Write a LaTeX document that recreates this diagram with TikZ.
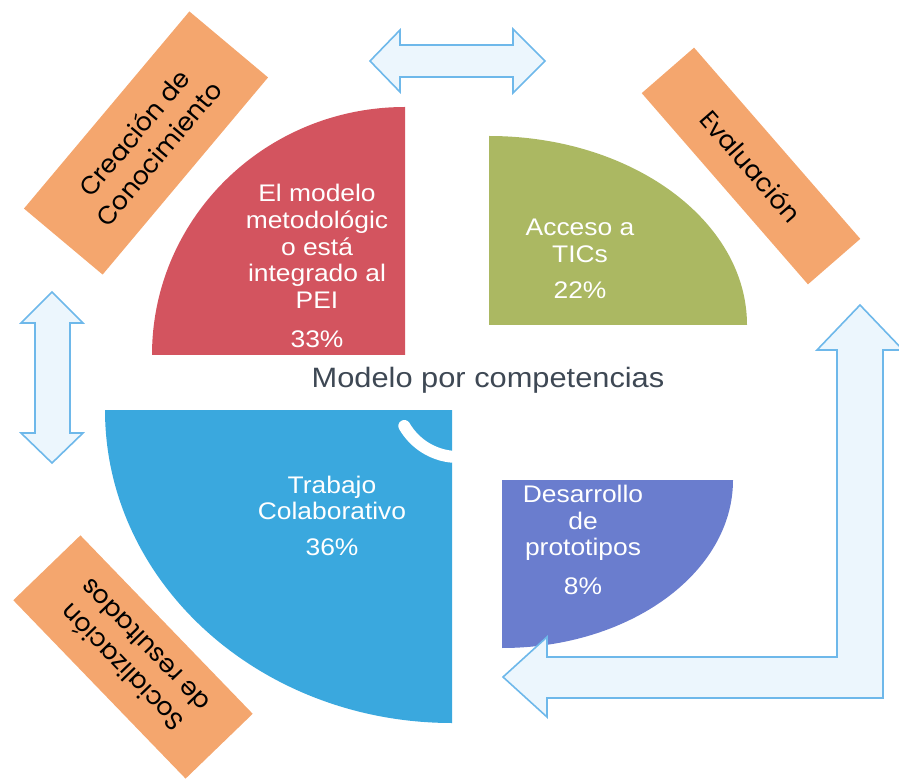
\documentclass[tikz,border=0pt]{standalone}
\usepackage{fontspec}
\setmainfont{Liberation Sans}
\newfontfamily\piefont[FakeStretch=1.1]{Liberation Sans}
\newfontfamily\tagfont{Poppins}
\usepackage{tikz}

\begin{document}
\begin{tikzpicture}[x=0.75pt,y=0.75pt,yscale=-1,xscale=1,
  pielabel/.style={text={rgb,255:red,255;green,255;blue,255}, align=center, inner sep=0pt, font=\piefont\fontsize{18}{20}\selectfont},
  tagbox/.style={fill={rgb,255:red,244;green,166;blue,110}, align=center, inner sep=0pt, font=\tagfont\fontsize{19}{24}\selectfont},
  hollow/.style={draw={rgb,255:red,110;green,184;blue,234}, fill={rgb,255:red,236;green,246;blue,253}, line width=1.2, line join=miter}
]
\useasboundingbox (0,0) rectangle (899,780);

%Shape: Sector [red]
\fill [color={rgb, 255:red, 211; green, 84; blue, 95 }] (405,355) -- (152,355) arc[start angle=180, end angle=270, x radius=253, y radius=248] -- cycle ;
%Shape: Sector [green]
\fill [color={rgb, 255:red, 171; green, 184; blue, 98 }] (489,325) -- (489,136) arc[start angle=270, end angle=360, x radius=258, y radius=189] -- cycle ;
%Shape: Sector [blue]
\fill [color={rgb, 255:red, 58; green, 168; blue, 222 }] (452,410) -- (105,410) arc[start angle=180, end angle=90, x radius=347, y radius=313] -- cycle ;
%Shape: Sector [purple]
\fill [color={rgb, 255:red, 106; green, 125; blue, 206 }] (502,480) -- (733,480) arc[start angle=0, end angle=90, x radius=231, y radius=168] -- cycle ;
%Shape: Arc [white]
\draw [color={rgb, 255:red, 255; green, 255; blue, 255 }, line width=9, line cap=round] ([shift={(150:62)}]458,395) arc[start angle=150, end angle=95, radius=62] ;

%Sector labels
\node [pielabel] (pei) at (317,266) {El modelo\\metodológic\\o está\\integrado al\\PEI\\[9pt]33\%};
\node [pielabel] (tics) at (580,259) {Acceso a\\TICs\\[7pt]22\%};
\node [pielabel] (trabajo) at (332,516) {Trabajo\\Colaborativo\\[7pt]36\%};
\node [pielabel] (prototipos) at (583,540) {Desarrollo\\de\\prototipos\\[9pt]8\%};

%Center title
\node [font=\piefont\fontsize{21}{24}\selectfont, text={rgb,255:red,62;green,72;blue,84}] (modelo) at (488,380) {Modelo por competencias};

%Orange tags
\node [tagbox, rotate=50, minimum width=193pt, minimum height=77pt] (creacion) at (146,143) {Creación de\\Conocimiento};
\node [tagbox, rotate=-49, minimum width=190pt, minimum height=52pt] (evaluacion) at (751,166) {Evaluación};
\node [tagbox, rotate=134, minimum width=186pt, minimum height=70pt] (socializacion) at (133,657) {Socialización\\de resultados};

%Hollow arrows
\draw [hollow] (370,61) -- (400,30) -- (400,45) -- (513,45) -- (513,29) -- (545,61) -- (513,93) -- (513,77) -- (400,77) -- (400,92) -- cycle ;
\draw [hollow] (52,292) -- (83,323) -- (70,323) -- (70,433) -- (83,433) -- (52,463) -- (21,433) -- (35,433) -- (35,323) -- (21,323) -- cycle ;
\draw [hollow] (503,677) -- (547,637) -- (547,657) -- (837,657) -- (837,350) -- (817,350) -- (860,305) -- (903,350) -- (883,350) -- (883,698) -- (547,698) -- (547,717) -- cycle ;

\end{tikzpicture}
\end{document}
